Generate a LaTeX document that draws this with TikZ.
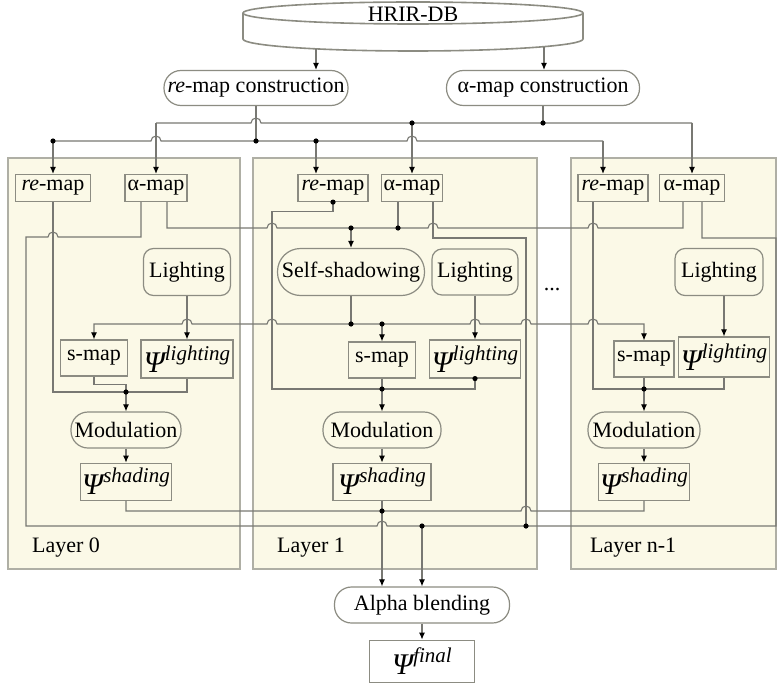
\documentclass[tikz,border=0pt]{standalone}
\usepackage{fontspec}
\setmainfont{Liberation Serif}
\usetikzlibrary{positioning, arrows.meta}

\definecolor{cream}{RGB}{251,249,231}
\definecolor{wiregray}{RGB}{120,120,115}
\definecolor{edgegray}{RGB}{140,140,130}
\definecolor{framegray}{RGB}{175,175,165}

% small hop where a wire crosses another one
\newcommand{\jumpR}{arc[start angle=180, end angle=0, radius=2.5pt]}
\newcommand{\jumpL}{arc[start angle=0, end angle=180, radius=2.5pt]}
% Psi with an italic superscript
\newcommand{\psiop}[1]{{\fontsize{15}{15}\selectfont\itshape Ψ}\raisebox{6pt}{\fontsize{10.5}{12}\selectfont\itshape #1}}

\begin{document}
\begin{tikzpicture}[
        x=0.5pt, y=-0.5pt,
        font=\fontsize{11}{13}\selectfont,
        layerframe/.style={rectangle, draw=framegray, fill=cream, line width=0.8pt, inner sep=0pt},
        mapbox/.style={rectangle, draw=edgegray, fill=cream, line width=0.6pt, inner sep=1pt},
        topbox/.style={rectangle, draw=edgegray, fill=white, line width=0.6pt, inner sep=1pt},
        pill/.style={rounded corners=8.5pt},
        litbox/.style={rounded corners=5pt},
        wire/.style={draw=wiregray, line width=0.55pt},
        arr/.style={wire, -{Latex[length=3.5pt, width=3pt, color=black]}},
        biarr/.style={wire, {Latex[length=3.5pt, width=3pt, color=black]}-{Latex[length=3.5pt, width=3pt, color=black]}},
    ]
        \fill[white] (0,0) rectangle (779,684);
        \useasboundingbox (0,0) rectangle (779,684);

        % Layer frames
        \node[layerframe, minimum width=116pt, minimum height=205.5pt] (lay0) at (124,363.5) {};
        \node[layerframe, minimum width=142pt, minimum height=205.5pt] (lay1) at (395,363.5) {};
        \node[layerframe, minimum width=102.5pt, minimum height=205.5pt] (layn) at (673.5,363.5) {};

        % HRIR database
        \draw[edgegray, line width=0.8pt, fill=white] (243,13) arc[start angle=180, end angle=0, x radius=85pt, y radius=5.5pt] -- (583,39) arc[start angle=0, end angle=-180, x radius=85pt, y radius=6pt] -- cycle;
        \draw[edgegray, line width=0.8pt] (243,13) arc[start angle=180, end angle=360, x radius=85pt, y radius=5.5pt];
        \node (db) at (413,14) {HRIR-DB};
        \coordinate (db1) at (316,49);
        \coordinate (db2) at (544,47);

        % Map construction
        \node[topbox, pill, minimum width=92pt, minimum height=17.5pt] (recon) at (256,88) {\textit{re}-map construction};
        \node[topbox, pill, minimum width=96.5pt, minimum height=17.5pt] (acon) at (543,88) {α-map construction};

        % Layer 0
        \node[mapbox, minimum width=37.5pt, minimum height=13.5pt] (re0) at (53,188) {\textit{re}-map};
        \node[mapbox, minimum width=31pt, minimum height=13.5pt] (al0) at (156,188) {α-map};
        \node[mapbox, litbox, minimum width=43.5pt, minimum height=23.5pt] (li0) at (187,272) {Lighting};
        \node[mapbox, minimum width=33.5pt, minimum height=18pt] (sm0) at (94,358) {s-map};
        \node[mapbox, minimum width=46pt, minimum height=19pt] (pl0) at (187,359) {\psiop{lighting}};
        \node[mapbox, pill, minimum width=55pt, minimum height=18pt] (mo0) at (126,430) {Modulation};
        \node[mapbox, minimum width=45pt, minimum height=18.5pt, below=7pt of mo0] (ps0) {\psiop{shading}};
        \node[anchor=west] (lab0) at (25,548) {Layer 0};

        % Layer 1
        \node[mapbox, minimum width=35pt, minimum height=13.5pt] (re1) at (333,188) {\textit{re}-map};
        \node[mapbox, minimum width=30pt, minimum height=13.5pt] (al1) at (412,188) {α-map};
        \node[mapbox, rounded corners=11.5pt, minimum width=73.5pt, minimum height=23.5pt] (ss1) at (351,272) {Self-shadowing};
        \node[mapbox, litbox, minimum width=43pt, minimum height=23pt] (li1) at (475,272) {Lighting};
        \node[mapbox, minimum width=33.5pt, minimum height=18pt] (sm1) at (382,360) {s-map};
        \node[mapbox, minimum width=45.5pt, minimum height=19pt] (pl1) at (475,359) {\psiop{lighting}};
        \node[mapbox, pill, minimum width=59pt, minimum height=18pt] (mo1) at (382,430) {Modulation};
        \node[mapbox, minimum width=49pt, minimum height=18.5pt, below=7pt of mo1] (ps1) {\psiop{shading}};
        \node[anchor=west] (lab1) at (270,548) {Layer 1};

        % Layer n-1
        \node[mapbox, minimum width=35pt, minimum height=13.5pt] (ren) at (613,188) {\textit{re}-map};
        \node[mapbox, minimum width=32.5pt, minimum height=13.5pt] (aln) at (692,188) {α-map};
        \node[mapbox, litbox, minimum width=44pt, minimum height=23.5pt] (lin) at (719,272) {Lighting};
        \node[mapbox, minimum width=30pt, minimum height=18pt] (smn) at (644,359) {s-map};
        \node[mapbox, minimum width=44.5pt, minimum height=20pt] (pln) at (724,357) {\psiop{lighting}};
        \node[mapbox, pill, minimum width=56pt, minimum height=18pt] (mon) at (644,430) {Modulation};
        \node[mapbox, minimum width=43.5pt, minimum height=18.5pt, below=7pt of mon] (psn) {\psiop{shading}};
        \node[anchor=west] (labn) at (583,548) {Layer n-1};

        \node (gap) at (552,290) {...};

        % Blending
        \node[topbox, pill, minimum width=87.5pt, minimum height=18pt] (blend) at (422,605) {Alpha blending};
        \node[topbox, minimum width=52.5pt, minimum height=21pt, below=8pt of blend] (fin) {\psiop{final}};

        % Junctions
        \coordinate (rtop0) at (53,141);
        \coordinate (rtop1) at (316,141);
        \coordinate (rtopn) at (603,141);
        \coordinate (rsplit) at (256,141);
        \coordinate (atop0) at (156,123);
        \coordinate (atop1) at (412,123);
        \coordinate (atopn) at (692,123);
        \coordinate (asplit) at (543,123);
        \coordinate (aself) at (351,228);
        \coordinate (ajoin) at (398,228);
        \coordinate (ablend) at (422,526);
        \coordinate (ajoin1) at (526,526);
        \coordinate (sblend) at (382,511);
        \coordinate (sshadow) at (351,324);
        \coordinate (sjoin) at (382,324);
        \coordinate (m0) at (126,392);
        \coordinate (m1) at (382,389);
        \coordinate (mn) at (644,389);

        % Database to construction
        \draw[arr] (db1) -- (db1 |- recon.north);
        \draw[arr] (db2) -- (db2 |- acon.north);

        % Construction to the layers
        \draw[wire] (recon.south) -- (rsplit);
        \draw[wire] (acon.south) -- (asplit);
        \draw[wire] (atop0) -- (251,123) \jumpR -- (atopn);
        \draw[wire] (rtop0) -- (151,141) \jumpR -- (407,141) \jumpR -- (rtopn);
        \draw[arr] (rtop0) -- (re0.north);
        \draw[arr] (rtop1) -- (rtop1 |- re1.north);
        \draw[arr] (rtopn) -- (rtopn |- ren.north);
        \draw[arr] (atop0) -- (al0.north);
        \draw[arr] (atop1) -- (al1.north);
        \draw[arr] (atopn) -- (aln.north);

        % alpha-maps to self-shadowing
        \draw[wire] ([xshift=5.5pt]al0.south) |- (267,228) \jumpR -- (428,228) \jumpR -- (588,228) \jumpR -| ([xshift=-4.5pt]aln.south);
        \draw[wire] ([xshift=-7pt]al1.south) -- (ajoin);
        \draw[arr] (aself) -- (ss1.north);

        % alpha-maps to blending
        \draw[wire] ([xshift=-7.5pt]al0.south) |- (58,237) \jumpL -- (26,237) -- (26,526) -- (377,526) \jumpR -- (776,526) -- (776,238) -| ([xshift=5pt]aln.south);
        \draw[wire] ([xshift=10.5pt]al1.south) |- (526,238) -- (ajoin1);
        \draw[arr] (ablend) -- (blend.north);

        % Self-shadowing to s-maps
        \draw[wire] (ss1.south) -- (sshadow);
        \draw[biarr] (sm0.north) |- (182,324) \jumpR -- (267,324) \jumpR -- (470,324) \jumpR -- (521,324) \jumpR -- (588,324) \jumpR -| (smn.north);
        \draw[arr] (sjoin) -- (sm1.north);

        % Lighting
        \draw[arr] (li0.south) -- (pl0.north);
        \draw[arr] (li1.south) -- (pl1.north);
        \draw[arr] (lin.south -| pln.north) -- (pln.north);

        % Modulation inputs
        \draw[wire] (re0.south) |- (m0) -| (pl0.south);
        \draw[wire] (sm0.south) -- ++(0,8) -| (m0);
        \draw[arr] (m0) -- (mo0.north);
        \draw[wire] (re1.south) -- ++(0,9) -| (272,389) -| (pl1.south);
        \draw[wire] (sm1.south) -- (m1);
        \draw[arr] (m1) -- (mo1.north);
        \draw[wire] ([xshift=-10pt]ren.south) |- (mn) -| (pln.south);
        \draw[wire] (smn.south) -- (mn);
        \draw[arr] (mn) -- (mon.north);

        % Modulation to shading
        \draw[arr] (mo0.south) -- (ps0.north);
        \draw[arr] (mo1.south) -- (ps1.north);
        \draw[arr] (mon.south) -- (psn.north);

        % Shading to blending
        \draw[wire] (ps0.south) |- (521,511) \jumpR -| (psn.south);
        \draw[wire] (ps1.south) -- (sblend);
        \draw[arr] (sblend) -- (sblend |- blend.north);
        \draw[arr] (blend.south) -- (fin.north);

        % Dots
        \foreach \p in {rsplit, rtop0, rtop1, asplit, atop1, aself, ajoin, ablend, ajoin1, sblend, sshadow, sjoin, m0, m1, mn, re1.south, pl1.south}
            \fill (\p) circle[radius=1.3pt];
    \end{tikzpicture}
\end{document}
